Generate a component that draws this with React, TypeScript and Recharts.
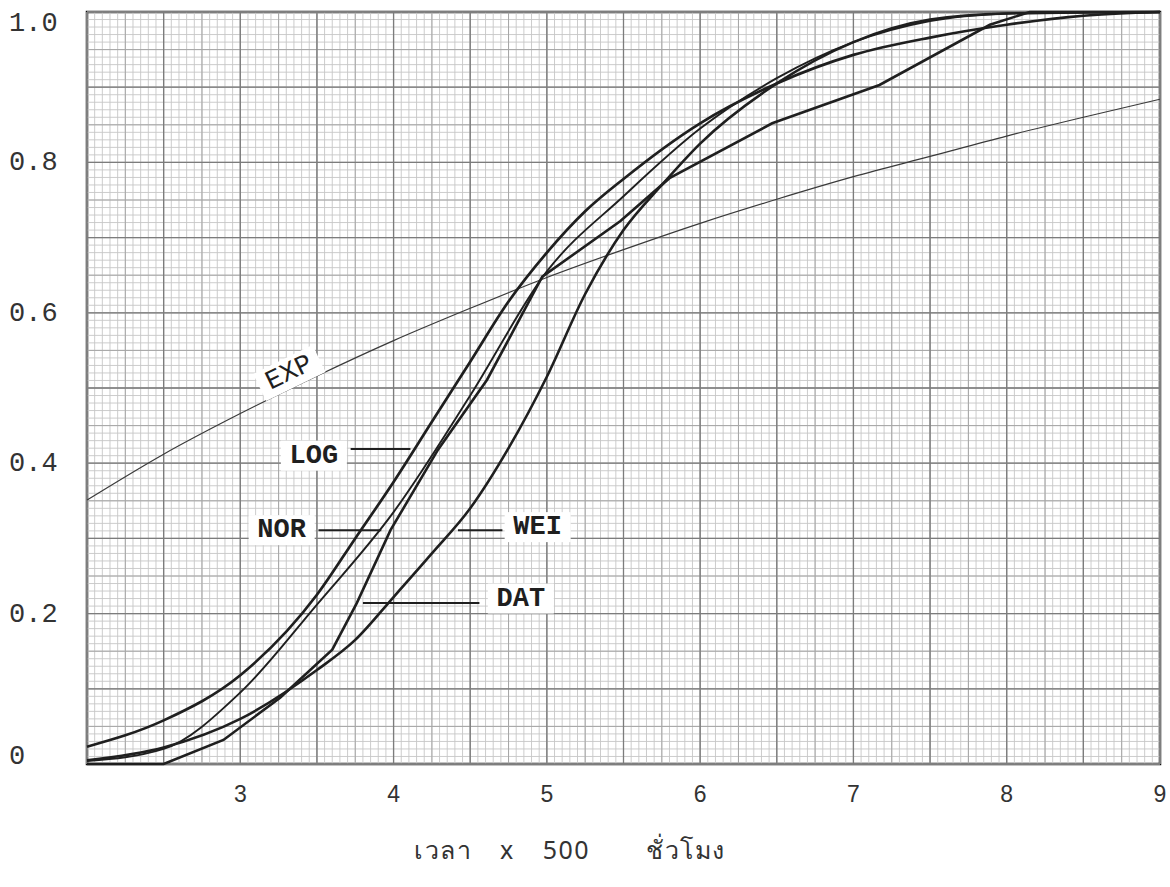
import React from 'react'
import {
  LineChart,
  Line,
  XAxis,
  YAxis,
  ReferenceLine,
  ReferenceArea,
  ReferenceDot,
  Label,
} from 'recharts'

// time axis (x 500 hours) and probability ticks
const xTicks = [3, 4, 5, 6, 7, 8, 9]
const yTicks = [0, 0.2, 0.4, 0.6, 0.8, 1.0]

// graph paper rulings
const ruling = (from: number, to: number, step: number) =>
  Array.from({ length: Math.round((to - from) / step) + 1 }, (_, i) => +(from + i * step).toFixed(3))
const fineX = ruling(2, 9, 0.05)
const midX = ruling(2, 9, 0.25)
const majorX = ruling(2, 9, 0.5)
const fineY = ruling(0, 1, 0.01)
const midY = ruling(0, 1, 0.05)
const majorY = ruling(0, 1, 0.1)

// fitted CDFs
const expData = [
  { t: 2.0, p: 0.351 }, { t: 2.5, p: 0.412 }, { t: 3.0, p: 0.466 }, { t: 3.5, p: 0.516 },
  { t: 4.0, p: 0.563 }, { t: 4.5, p: 0.606 }, { t: 5.0, p: 0.647 }, { t: 5.5, p: 0.684 },
  { t: 6.0, p: 0.719 }, { t: 6.5, p: 0.751 }, { t: 7.0, p: 0.781 }, { t: 7.5, p: 0.808 },
  { t: 8.0, p: 0.835 }, { t: 8.5, p: 0.86 }, { t: 9.0, p: 0.884 },
]

const logData = [
  { t: 2.0, p: 0.023 }, { t: 2.5, p: 0.058 }, { t: 3.0, p: 0.118 }, { t: 3.5, p: 0.225 },
  { t: 3.75, p: 0.3 }, { t: 4.0, p: 0.375 }, { t: 4.25, p: 0.455 }, { t: 4.5, p: 0.535 },
  { t: 4.75, p: 0.615 }, { t: 5.0, p: 0.68 }, { t: 5.25, p: 0.735 }, { t: 5.5, p: 0.778 },
  { t: 6.0, p: 0.852 }, { t: 6.5, p: 0.905 }, { t: 7.0, p: 0.943 }, { t: 7.5, p: 0.966 },
  { t: 8.0, p: 0.983 }, { t: 8.5, p: 0.995 }, { t: 9.0, p: 1.0 },
]

const norData = [
  { t: 2.0, p: 0.004 }, { t: 2.5, p: 0.02 }, { t: 3.0, p: 0.095 }, { t: 3.5, p: 0.212 },
  { t: 4.0, p: 0.335 }, { t: 4.5, p: 0.49 }, { t: 5.0, p: 0.655 }, { t: 5.5, p: 0.755 },
  { t: 6.0, p: 0.845 }, { t: 6.5, p: 0.912 }, { t: 7.0, p: 0.96 }, { t: 7.5, p: 0.988 },
  { t: 8.0, p: 0.998 }, { t: 8.5, p: 1.0 }, { t: 9.0, p: 1.0 },
]

const weiData = [
  { t: 2.0, p: 0.005 }, { t: 2.5, p: 0.022 }, { t: 3.0, p: 0.06 }, { t: 3.5, p: 0.125 },
  { t: 3.75, p: 0.165 }, { t: 4.0, p: 0.222 }, { t: 4.25, p: 0.28 }, { t: 4.5, p: 0.34 },
  { t: 4.75, p: 0.42 }, { t: 5.0, p: 0.515 }, { t: 5.25, p: 0.625 }, { t: 5.5, p: 0.71 },
  { t: 5.75, p: 0.77 }, { t: 6.0, p: 0.825 }, { t: 6.5, p: 0.905 }, { t: 7.0, p: 0.96 },
  { t: 7.5, p: 0.99 }, { t: 8.0, p: 0.998 }, { t: 9.0, p: 1.0 },
]

// empirical distribution
const datData = [
  { t: 2.0, p: 0 }, { t: 2.5, p: 0 }, { t: 2.89, p: 0.032 }, { t: 3.26, p: 0.088 },
  { t: 3.6, p: 0.152 }, { t: 3.76, p: 0.214 }, { t: 3.98, p: 0.311 }, { t: 4.29, p: 0.418 },
  { t: 4.61, p: 0.511 }, { t: 4.97, p: 0.648 }, { t: 5.48, p: 0.722 }, { t: 5.8, p: 0.779 },
  { t: 6.47, p: 0.852 }, { t: 7.17, p: 0.903 }, { t: 7.89, p: 0.983 }, { t: 8.15, p: 1.0 },
  { t: 9.0, p: 1.0 },
]

// curve tags with their leader lines
const tags = [
  { name: 'LOG', x: 3.48, y: 0.41, from: 3.72, to: 4.11, at: 0.419 },
  { name: 'NOR', x: 3.27, y: 0.311, from: 3.51, to: 3.92, at: 0.311 },
  { name: 'WEI', x: 4.94, y: 0.315, from: 4.42, to: 4.71, at: 0.311 },
  { name: 'DAT', x: 4.83, y: 0.22, from: 3.8, to: 4.56, at: 0.214 },
]

const ink = '#1f1f1f'
const mono = '"Liberation Mono", "DejaVu Sans Mono", monospace'

const tagShape = (text: string, angle = 0, bold = true) => (props: any) => {
  const { cx, cy } = props
  return (
    <g transform={`rotate(${angle} ${cx} ${cy})`}>
      <rect x={cx - 33} y={cy - 15} width={66} height={30} fill="#fff" />
      <text
        x={cx}
        y={cy}
        textAnchor="middle"
        dominantBaseline="central"
        fontFamily={mono}
        fontWeight={bold ? 'bold' : 'normal'}
        fontSize={27}
        fill={ink}
      >
        {text}
      </text>
    </g>
  )
}

const YTick = (props: any) => {
  const { y, payload } = props
  const v = payload.value
  const dy = v === 1 ? 12 : v === 0 ? -7 : 1
  return (
    <text x={9} y={y + dy} dominantBaseline="central" fontFamily={mono} fontSize={27} fill="#333">
      {v === 0 ? '0' : v.toFixed(1)}
    </text>
  )
}

const XTitle = (props: any) => {
  const { viewBox } = props
  return (
    <text
      x={viewBox.x + viewBox.width * 0.45}
      y={viewBox.y + 95}
      textAnchor="middle"
      fontFamily='"Noto Sans", "DejaVu Sans", sans-serif'
      fontSize={25}
      fill="#333"
      style={{ whiteSpace: 'pre', letterSpacing: '1.5px', wordSpacing: '20px' }}
    >
      {'เวลา x 500  ชั่วโมง'}
    </text>
  )
}

export default function App() {
  return (
    <div style={{ position: 'absolute', left: 0, top: 0, background: '#fff' }}>
      <LineChart width={1170} height={887} margin={{ top: 12, right: 10, left: 0, bottom: 0 }}>
        <XAxis
          type="number"
          dataKey="t"
          domain={[2, 9]}
          ticks={xTicks}
          height={123}
          axisLine={false}
          tickLine={false}
          tickMargin={16}
          tick={{ fontSize: 23, fill: '#333', fontFamily: '"Liberation Sans", Arial, sans-serif' }}
          label={<Label content={XTitle} />}
        />
        <YAxis
          type="number"
          domain={[0, 1]}
          ticks={yTicks}
          width={87}
          axisLine={false}
          tickLine={false}
          tick={YTick}
        />

        {fineX.map((v) => (
          <ReferenceLine key={'fx' + v} x={v} stroke="#c6c6c6" strokeWidth={0.9} />
        ))}
        {fineY.map((v) => (
          <ReferenceLine key={'fy' + v} y={v} stroke="#c6c6c6" strokeWidth={0.9} />
        ))}
        {midX.map((v) => (
          <ReferenceLine key={'mx' + v} x={v} stroke="#a6a6a6" strokeWidth={1} />
        ))}
        {midY.map((v) => (
          <ReferenceLine key={'my' + v} y={v} stroke="#a6a6a6" strokeWidth={1} />
        ))}
        {majorX.map((v) => (
          <ReferenceLine key={'Mx' + v} x={v} stroke="#7c7c7c" strokeWidth={1.3} />
        ))}
        {majorY.map((v) => (
          <ReferenceLine key={'My' + v} y={v} stroke="#7c7c7c" strokeWidth={1.3} />
        ))}

        <Line data={expData} dataKey="p" type="monotone" dot={false} stroke="#3a3a3a" strokeWidth={1.2} isAnimationActive={false} />
        <Line data={logData} dataKey="p" type="monotone" dot={false} stroke={ink} strokeWidth={2.7} isAnimationActive={false} />
        <Line data={norData} dataKey="p" type="monotone" dot={false} stroke={ink} strokeWidth={1.9} isAnimationActive={false} />
        <Line data={weiData} dataKey="p" type="monotone" dot={false} stroke={ink} strokeWidth={2.6} isAnimationActive={false} />
        <Line data={datData} dataKey="p" type="linear" dot={false} stroke={ink} strokeWidth={2.6} isAnimationActive={false} />

        {tags.map((g) => (
          <ReferenceLine
            key={g.name + '-lead'}
            segment={[{ x: g.from, y: g.at }, { x: g.to, y: g.at }]}
            stroke={ink}
            strokeWidth={2}
          />
        ))}
        {tags.map((g) => (
          <ReferenceDot key={g.name} x={g.x} y={g.y} r={0} shape={tagShape(g.name)} />
        ))}
        <ReferenceDot x={3.32} y={0.52} r={0} shape={tagShape('EXP', -26, false)} />

        <ReferenceArea x1={2} x2={9} y1={0} y2={1} fill="none" stroke="#111" strokeWidth={2.5} />
      </LineChart>
    </div>
  )
}
